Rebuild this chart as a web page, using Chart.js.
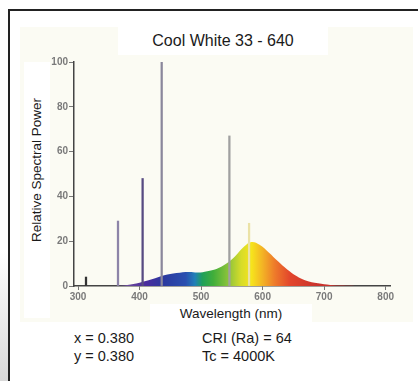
<!DOCTYPE html>
<html>
<head>
<meta charset="utf-8">
<script src="https://cdn.jsdelivr.net/npm/chart.js@4"></script>
<style>
  body { margin: 0; width: 418px; height: 381px; background: #fff; position: relative; overflow: hidden; font-family: "Liberation Sans", Arial, sans-serif; }
  .frame { position: absolute; left: 8px; top: 9px; width: 420px; height: 400px; border-top: 2px solid #222; border-left: 2px solid #222; }
  .shadow { position: absolute; left: 0; top: 250px; width: 8px; height: 131px; background: linear-gradient(#fff, #d8d8d8); }
  .panel { position: absolute; left: 20px; top: 27px; width: 393px; height: 295px; background: #fbfbf3; }
  .box { position: absolute; background: #fff; }
  .txt { position: absolute; color: #1a1a1a; white-space: nowrap; line-height: 1; }
  canvas { position: absolute; left: 20px; top: 27px; }
</style>
</head>
<body>
<div class="shadow"></div>
<div class="frame"></div>
<div class="panel"></div>
<div class="box" style="left:118px; top:27px; width:210px; height:28px;"></div>
<div class="box" style="left:24px; top:62px; width:26px; height:256px;"></div>
<div class="box" style="left:150px; top:304px; width:162px; height:18px;"></div>

<div class="txt" style="left:118px; width:210px; top:33px; text-align:center; font-size:16px;">Cool White 33 - 640</div>
<div class="txt" style="left:37px; top:170px; font-size:13.5px; transform: translate(-50%, -50%) rotate(-90deg);">Relative Spectral Power</div>
<div class="txt" style="left:150px; width:162px; top:307px; text-align:center; font-size:13.5px;">Wavelength (nm)</div>

<div class="txt" style="left:74px; top:331px; font-size:14.5px;">x = 0.380</div>
<div class="txt" style="left:74px; top:349px; font-size:14.5px;">y = 0.380</div>
<div class="txt" style="left:202px; top:331px; font-size:14.5px;">CRI (Ra) = 64</div>
<div class="txt" style="left:202px; top:349px; font-size:14.5px;">Tc = 4000K</div>

<canvas id="chart" width="393" height="295"></canvas>

<script>
// continuous part of the spectrum (nm, relative power)
const wavelengths = [360, 380, 400, 420, 440, 460, 480, 495, 510, 525, 540, 555, 570, 582, 595, 610, 625, 640, 655, 670, 690, 710, 730, 750];
const power = [0, 0.5, 1.5, 3, 4.8, 5.8, 6.3, 6.0, 6.6, 7.6, 9.8, 13.2, 17.6, 19.6, 18.4, 15, 11, 7.4, 4.5, 2.5, 1.2, 0.5, 0.2, 0];

// mercury emission lines
const lineNm = [313, 365, 405, 436, 546, 578];
const linePower = [4, 29, 48, 100, 67, 28];
const lineColors = ['#333333', '#8d84a8', '#574b82', '#8a879c', '#a0a0a0', '#ebe2a6'];

const xTicks = [300, 400, 500, 600, 700, 800];
const yTicks = [0, 20, 40, 60, 80, 100];

// colour of the fill along the wavelength axis
const spectrumStops = [
    [380, '#6a4a9a'], [410, '#4b2c9e'], [440, '#2b3a9f'], [475, '#2a4fb0'],
    [490, '#2080b8'], [502, '#1fa05a'], [520, '#41ae3a'], [545, '#8fc43a'],
    [565, '#d6dc2a'], [582, '#f6e41c'], [600, '#f3b325'], [620, '#ee7a2a'],
    [645, '#e2452c'], [690, '#c8322c']
];

function spectrumFill(context) {
    const chart = context.chart;
    const x = chart.scales.x;
    if (!chart.chartArea || !x) return '#f0c020';
    const g = chart.ctx.createLinearGradient(x.left, 0, x.right, 0);
    const span = x.right - x.left;
    spectrumStops.forEach(s => {
        const p = (x.getPixelForValue(s[0]) - x.left) / span;
        g.addColorStop(Math.min(1, Math.max(0, p)), s[1]);
    });
    return g;
}

const tickFont = { family: 'Liberation Sans', size: 10, weight: 'bold' };

new Chart(document.getElementById('chart'), {
    type: 'bar',
    data: {
        datasets: [
            {
                type: 'bar',
                data: lineNm.map((w, i) => ({ x: w, y: linePower[i] })),
                backgroundColor: lineColors,
                barThickness: 1.6,
                grouped: false,
                order: 0
            },
            {
                type: 'line',
                data: wavelengths.map((w, i) => ({ x: w, y: power[i] })),
                backgroundColor: spectrumFill,
                borderWidth: 0,
                pointRadius: 0,
                fill: 'origin',
                tension: 0.4,
                order: 1
            }
        ]
    },
    options: {
        responsive: false,
        animation: false,
        layout: { padding: { top: 35, right: 23, left: 0, bottom: 0 } },
        plugins: { legend: { display: false }, tooltip: { enabled: false } },
        scales: {
            x: {
                type: 'linear',
                offset: false,
                min: 293.5,
                max: 807,
                afterBuildTicks: scale => { scale.ticks = xTicks.map(v => ({ value: v })); },
                afterFit: scale => { scale.height = 36; },
                border: { color: '#444', width: 1.5 },
                grid: { offset: false, drawOnChartArea: false, tickLength: 4, color: '#777' },
                ticks: { font: tickFont, color: '#7a7a7a', padding: 1, maxRotation: 0 }
            },
            y: {
                min: 0,
                max: 100,
                afterBuildTicks: scale => { scale.ticks = yTicks.map(v => ({ value: v })); },
                afterFit: scale => { scale.width = 54; },
                border: { color: '#444', width: 1.5 },
                grid: { drawOnChartArea: false, tickLength: 5, color: '#777' },
                ticks: { font: tickFont, color: '#7a7a7a', padding: 1 }
            }
        }
    }
});
</script>
</body>
</html>
